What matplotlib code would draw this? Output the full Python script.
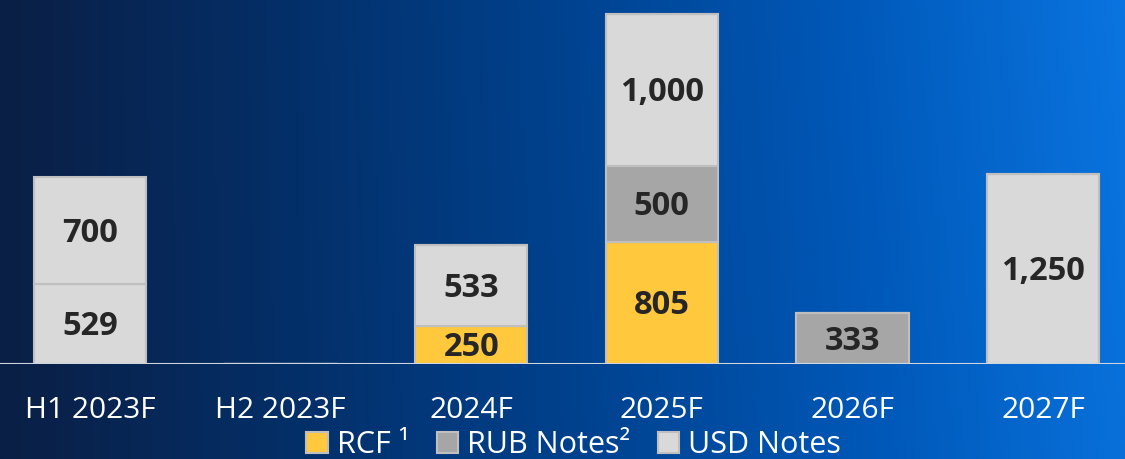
import numpy as np
import matplotlib
matplotlib.use('Agg')
import matplotlib.pyplot as plt
from matplotlib.colors import LinearSegmentedColormap
from matplotlib.patches import Patch

plt.rcParams['font.family'] = ['Open Sans', 'DejaVu Sans']

#Data
categories = ['H1 2023F', 'H2 2023F', '2024F', '2025F', '2026F', '2027F']
rcf = [0, 0, 250, 805, 0, 0]
rub_notes = [0, 0, 0, 500, 333, 0]
usd_notes_a = [529, 0, 533, 1000, 0, 1250]
usd_notes_b = [700, 0, 0, 0, 0, 0]
legend_labels = ['RCF \u00b9', 'RUB Notes\u00b2', 'USD Notes']

c_rcf = '#ffc83d'
c_rub = '#a6a6a6'
c_usd = '#d9d9d9'
c_edge = '#bfbfbf'

fig = plt.figure(figsize=(11.25, 4.59), dpi=100)

#background gradient
bg = fig.add_axes([0, 0, 1, 1], zorder=0)
cmap = LinearSegmentedColormap.from_list('bg', ['#0a1f45', '#042f68', '#00428f', '#0058b8', '#0a74e0'])
gx = np.linspace(0, 1, 400)
gy = np.linspace(0, 1, 100)
GX, GY = np.meshgrid(gx, gy)
grad = np.clip(GX - 0.04 * GY * GX, 0, 1)
bg.imshow(grad, cmap=cmap, aspect='auto', extent=[0, 1, 0, 1], origin='upper')
bg.axis('off')

#main axes
ax = fig.add_axes([0, 95 / 459, 1, 364 / 459], zorder=1)
ax.patch.set_alpha(0)
x = np.arange(len(categories))
w = 0.59

series = [(rcf, c_rcf), (rub_notes, c_rub), (usd_notes_a, c_usd), (usd_notes_b, c_usd)]
bottom = np.zeros(len(categories))
for vals, col in series:
    vals = np.array(vals, dtype=float)
    ax.bar(x, vals, w, bottom=bottom, color=col, edgecolor=c_edge, linewidth=1.5)
    for i, v in enumerate(vals):
        if v > 0:
            ax.annotate(f'{int(v):,}', (x[i], bottom[i] + v / 2), xytext=(0, -2),
                        textcoords='offset points', ha='center', va='center',
                        fontsize=23.5, fontweight='bold', color='#262626')
    bottom += vals

ax.axhline(0, color='#d0d6e0', lw=1.5, zorder=3)
ax.set_xlim(-0.472, 5.430)
ax.set_ylim(0, 2395)
ax.set_xticks(x)
ax.set_xticklabels(categories, fontsize=21.5, color='white')
ax.tick_params(axis='x', length=0, pad=23)
ax.set_yticks([])
for s in ax.spines.values():
    s.set_visible(False)

#legend
handles = [Patch(facecolor=c, edgecolor=c_edge, linewidth=1.5) for c in [c_rcf, c_rub, c_usd]]
fig.legend(handles, legend_labels, loc='center', bbox_to_anchor=(0.51, 0.03), ncol=3,
           frameon=False, fontsize=22, labelcolor='white', handlelength=0.7,
           handleheight=0.7, handletextpad=0.3, columnspacing=0.9, borderpad=0)

fig.savefig('out.png', dpi=100)
